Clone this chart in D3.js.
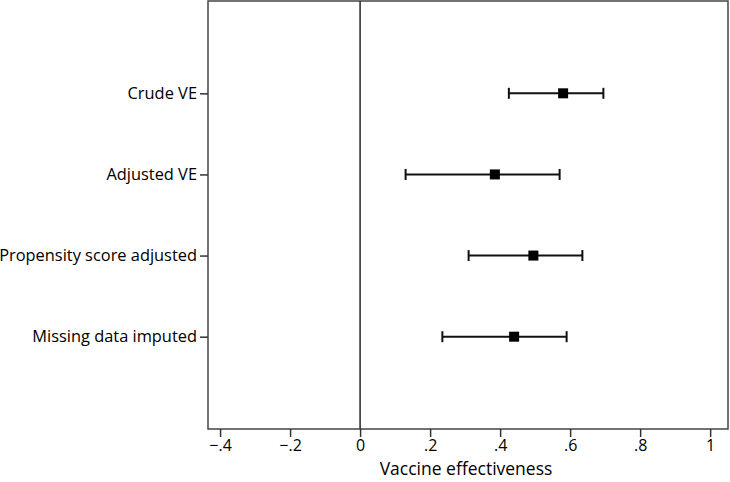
<!DOCTYPE html>
<html>
  <script src="https://cdn.jsdelivr.net/npm/d3@7"></script>
  <style>
    body { margin: 0; background: #fff; }
    text { font-family: "Open Sans", sans-serif; fill: #000; }
  </style>
  <body>
    <script>
var width = 730;
var height = 482;

// estimates and 95% CI
var labels = ['Crude VE', 'Adjusted VE', 'Propensity score adjusted', 'Missing data imputed'];
var estimate = [0.58, 0.385, 0.495, 0.44];
var lower = [0.425, 0.13, 0.31, 0.235];
var upper = [0.695, 0.57, 0.635, 0.59];
var xTicks = [-0.4, -0.2, 0, 0.2, 0.4, 0.6, 0.8, 1];

var plotLeft = 208, plotRight = 728, plotTop = 1, plotBottom = 429;

var svg = d3.select('body').append('svg')
  .attr('width', width)
  .attr('height', height);

var x = d3.scaleLinear().domain([-0.4345, 1.051]).range([plotLeft, plotRight]);
var y = d3.scaleLinear().domain([-0.138, 5.138]).range([plotTop, plotBottom]);

function fmt(d) {
  if (d === 0) return '0';
  if (d === 1) return '1';
  var s = String(Math.abs(+d.toFixed(1))).replace('0.', '.');
  return (d < 0 ? '\u2212' : '') + s;
}

// frame
svg.append('rect')
  .attr('x', plotLeft).attr('y', plotTop)
  .attr('width', plotRight - plotLeft).attr('height', plotBottom - plotTop)
  .attr('fill', 'none')
  .attr('stroke', '#444')
  .attr('stroke-width', 1.5);

// reference line at 0
svg.append('line')
  .attr('x1', x(0)).attr('x2', x(0))
  .attr('y1', plotTop).attr('y2', plotBottom)
  .attr('stroke', '#333')
  .attr('stroke-width', 1.6);

// x axis
var xAxis = d3.axisBottom(x).tickValues(xTicks).tickFormat(fmt).tickSize(8).tickPadding(3);
var gx = svg.append('g').attr('transform', 'translate(0,' + plotBottom + ')').call(xAxis);
gx.select('.domain').remove();
gx.selectAll('.tick line').attr('stroke', '#333').attr('stroke-width', 1.5);
gx.selectAll('.tick text').style('font-size', '16px');

svg.append('text')
  .attr('x', (plotLeft + plotRight) / 2 - 2)
  .attr('y', 475)
  .attr('text-anchor', 'middle')
  .style('font-size', '17.5px')
  .text('Vaccine effectiveness');

// y axis
var yAxis = d3.axisLeft(y).tickValues([1, 2, 3, 4])
  .tickFormat(function(d) { return labels[d - 1]; })
  .tickSize(8).tickPadding(3);
var gy = svg.append('g').attr('transform', 'translate(' + plotLeft + ',0)').call(yAxis);
gy.select('.domain').remove();
gy.selectAll('.tick line').attr('stroke', '#333').attr('stroke-width', 1.5);
gy.selectAll('.tick text').style('font-size', '16.4px');

// CI whiskers
var rows = labels.map(function(l, i) {
  return { label: l, pos: i + 1, est: estimate[i], lo: lower[i], hi: upper[i] };
});

var g = svg.append('g');
g.selectAll('line.ci').data(rows).enter().append('line')
  .attr('class', 'ci')
  .attr('x1', function(d) { return x(d.lo); })
  .attr('x2', function(d) { return x(d.hi); })
  .attr('y1', function(d) { return y(d.pos); })
  .attr('y2', function(d) { return y(d.pos); })
  .attr('stroke', '#111').attr('stroke-width', 2);

['lo', 'hi'].forEach(function(k) {
  g.selectAll('line.cap-' + k).data(rows).enter().append('line')
    .attr('class', 'cap-' + k)
    .attr('x1', function(d) { return x(d[k]); })
    .attr('x2', function(d) { return x(d[k]); })
    .attr('y1', function(d) { return y(d.pos) - 5.5; })
    .attr('y2', function(d) { return y(d.pos) + 5.5; })
    .attr('stroke', '#111').attr('stroke-width', 2);
});

g.selectAll('rect.pt').data(rows).enter().append('rect')
  .attr('class', 'pt')
  .attr('x', function(d) { return x(d.est) - 5; })
  .attr('y', function(d) { return y(d.pos) - 5; })
  .attr('width', 10).attr('height', 10)
  .attr('fill', '#000');
    </script>
  </body>
</html>
